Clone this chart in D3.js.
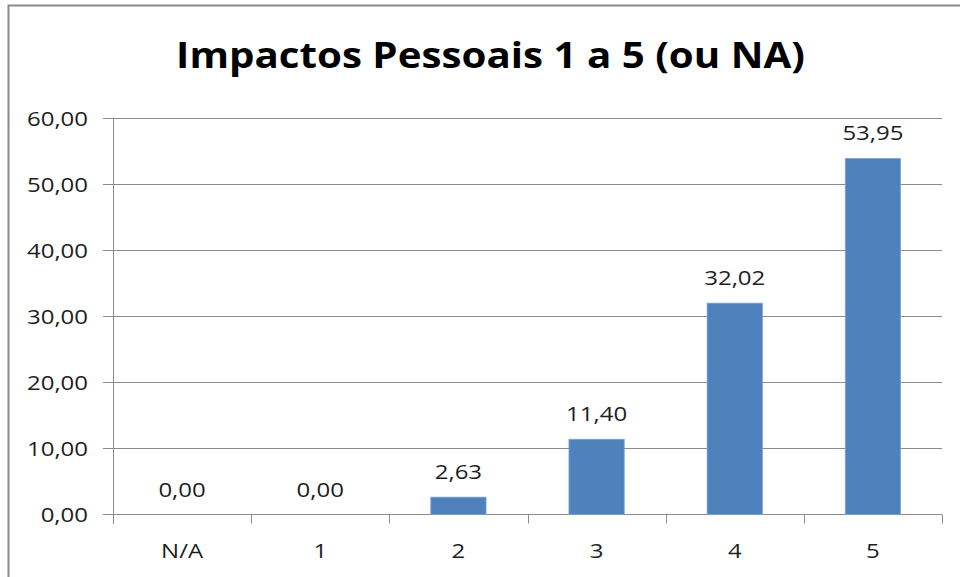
<!DOCTYPE html>
<html>
<head>
<meta charset="utf-8">
<script src="https://cdn.jsdelivr.net/npm/d3@7"></script>
<style>
  html, body { margin: 0; padding: 0; background: #fff; }
  svg { display: block; }
</style>
</head>
<body>
<svg id="app" width="960" height="577"></svg>
<script>
// data
const categories = ["N/A", "1", "2", "3", "4", "5"];
const values = [0, 0, 2.63, 11.40, 32.02, 53.95];
const yTicks = [0, 10, 20, 30, 40, 50, 60];
const title = "Impactos Pessoais 1 a 5 (ou NA)";

const W = 960, H = 577;
const plot = { left: 113, right: 942, top: 118.5, bottom: 514.5 };
const textStretch = 1.17; // source picture is stretched horizontally
const fontFamily = "'Open Sans', 'Noto Sans', sans-serif";
const fontSize = 20.5;
const gridColor = "#8c8c8c";
const barColor = "#4f81bd";

const pt = d3.formatLocale({ decimal: ",", thousands: ".", grouping: [3], currency: ["", ""] });
const fmt = pt.format(".2f");

const svg = d3.select("#app");

// outer frame of the chart
svg.append("rect")
  .attr("x", 8.5).attr("y", 5.5)
  .attr("width", W + 20).attr("height", H + 20)
  .attr("fill", "#fff")
  .attr("stroke", "#8a8a8a")
  .attr("stroke-width", 2);

const x = d3.scaleBand()
  .domain(categories)
  .range([plot.left, plot.right])
  .paddingInner(0.6)
  .paddingOuter(0.3);

const y = d3.scaleLinear()
  .domain([0, 60])
  .range([plot.bottom, plot.top]);

const stretched = (sel, px, py) =>
  sel.attr("transform", `translate(${px},${py}) scale(${textStretch},1)`);

// gridlines
svg.append("g")
  .selectAll("line")
  .data(yTicks)
  .join("line")
  .attr("x1", plot.left - 10).attr("x2", plot.right)
  .attr("y1", d => y(d)).attr("y2", d => y(d))
  .attr("stroke", gridColor)
  .attr("stroke-width", 1);

// y axis line
svg.append("line")
  .attr("x1", plot.left + 0.5).attr("x2", plot.left + 0.5)
  .attr("y1", plot.top).attr("y2", plot.bottom + 9)
  .attr("stroke", gridColor);

// x ticks at band boundaries
const step = x.step();
const boundaries = d3.range(categories.length + 1).map(i => plot.left + i * step);
svg.append("g")
  .selectAll("line")
  .data(boundaries)
  .join("line")
  .attr("x1", d => Math.round(d) + 0.5).attr("x2", d => Math.round(d) + 0.5)
  .attr("y1", plot.bottom).attr("y2", plot.bottom + 9)
  .attr("stroke", gridColor);

// y tick labels
svg.append("g")
  .selectAll("text")
  .data(yTicks)
  .join("text")
  .text(d => fmt(d))
  .attr("text-anchor", "end")
  .attr("font-family", fontFamily)
  .attr("font-size", fontSize)
  .attr("fill", "#1e1e1e")
  .each(function (d) { stretched(d3.select(this), 88, y(d) + 7.5); });

// x labels
svg.append("g")
  .selectAll("text")
  .data(categories)
  .join("text")
  .text(d => d)
  .attr("text-anchor", "middle")
  .attr("font-family", fontFamily)
  .attr("font-size", fontSize)
  .attr("fill", "#1e1e1e")
  .each(function (d) { stretched(d3.select(this), x(d) + x.bandwidth() / 2, 558); });

// bars
svg.append("g")
  .selectAll("rect")
  .data(values)
  .join("rect")
  .attr("x", (d, i) => x(categories[i]))
  .attr("width", x.bandwidth())
  .attr("y", d => y(d))
  .attr("height", d => y(0) - y(d))
  .attr("fill", barColor)
  .attr("stroke", d => d > 0 ? "#7ea3d2" : "none")
  .attr("stroke-width", 0.8);

// data labels
svg.append("g")
  .selectAll("text")
  .data(values)
  .join("text")
  .text(d => fmt(d))
  .attr("text-anchor", "middle")
  .attr("font-family", fontFamily)
  .attr("font-size", fontSize)
  .attr("fill", "#1e1e1e")
  .each(function (d, i) { stretched(d3.select(this), x(categories[i]) + x.bandwidth() / 2, y(d) - 18); });

// title, fitted to its width in the picture
const t = svg.append("text")
  .text(title)
  .attr("text-anchor", "middle")
  .attr("font-family", fontFamily)
  .attr("font-weight", "bold")
  .attr("font-size", 35)
  .attr("fill", "#000");
const titleWidth = 629;
const k = titleWidth / t.node().getComputedTextLength();
t.attr("transform", `translate(490.5,68) scale(${k},1)`);
</script>
</body>
</html>
